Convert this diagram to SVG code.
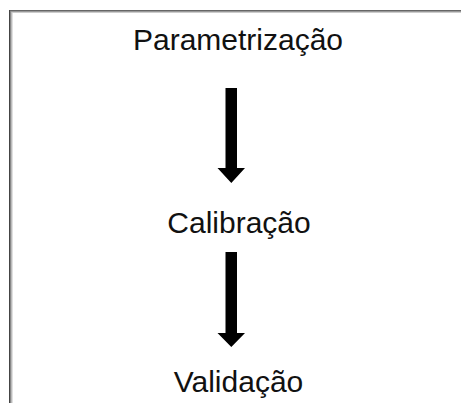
<svg xmlns="http://www.w3.org/2000/svg" width="461" height="403" viewBox="0 0 461 403">
  <style>
    .label { font-family: "Liberation Sans", Arial, sans-serif; font-size: 30px; fill: #111; text-anchor: middle; }
    .arrow { fill: #000; }
  </style>
  <rect x="0" y="0" width="461" height="403" fill="#fff"/>
  <g id="frame" fill="none">
    <line x1="9" y1="10.5" x2="461" y2="10.5" stroke="#666" stroke-width="1"/>
    <line x1="10" y1="11.5" x2="461" y2="11.5" stroke="#999" stroke-width="1"/>
    <line x1="11" y1="12.5" x2="461" y2="12.5" stroke="#ccc" stroke-width="1"/>
    <line x1="9.5" y1="10" x2="9.5" y2="403" stroke="#444" stroke-width="1"/>
    <line x1="10.5" y1="11" x2="10.5" y2="403" stroke="#888" stroke-width="1"/>
    <line x1="11.5" y1="12" x2="11.5" y2="403" stroke="#bbb" stroke-width="1"/>
    <line x1="12.5" y1="13" x2="12.5" y2="403" stroke="#e0e0e0" stroke-width="1"/>
  </g>
  <g id="node-parametrizacao">
    <text class="label" x="238" y="49.5">Parametrização</text>
  </g>
  <g id="node-calibracao">
    <text class="label" x="239" y="232.5">Calibração</text>
  </g>
  <g id="node-validacao">
    <text class="label" x="238.5" y="391.5">Validação</text>
  </g>
  <g id="connectors">
    <polygon class="arrow" points="225.5,88 237,88 237,168 245,168 231.3,183 217.5,168 225.5,168"/>
    <polygon class="arrow" points="225.5,252 237,252 237,333 245,333 231.3,347 217.5,333 225.5,333"/>
  </g>
</svg>
